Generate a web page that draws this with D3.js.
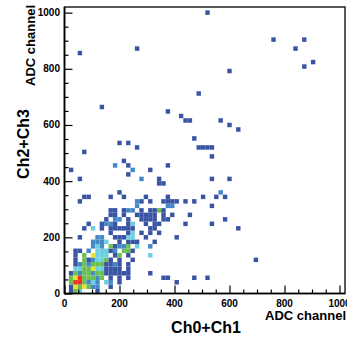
<!DOCTYPE html>
<html lang="en">
<head>
<meta charset="utf-8">
<title>Ch2+Ch3 vs Ch0+Ch1</title>
<style>
  * { margin: 0; padding: 0; box-sizing: border-box; }
  body { background: #fff; overflow: hidden; }
  svg { display: block; }
  text { font-family: "Liberation Sans", Arial, Helvetica, sans-serif; font-weight: bold; fill: #000; }
</style>
</head>
<body>
<svg id="chart" width="347" height="337"></svg>
<script src="https://cdn.jsdelivr.net/npm/d3@7/dist/d3.min.js"></script>
<script>
// 2D histogram, 16 ADC channels per bin; each entry is the low edge of a filled bin
const binWidth = 16;

const cellX = [
  16, 32, 48, 112,
  16, 32, 48, 64, 80, 96, 112, 160,
  16, 32, 48, 64, 80, 96, 112, 144, 160, 192, 400,
  16, 32, 48, 64, 80, 96, 112, 128, 160, 192, 224, 352, 368, 464, 512,
  16, 32, 48, 64, 80, 96, 112, 128, 144, 160, 176, 192, 208, 224, 304,
  32, 48, 64, 80, 96, 112, 128, 144, 160, 176, 192, 224,
  32, 48, 64, 80, 96, 112, 128, 144, 160, 176, 192, 224,
  32, 64, 80, 96, 112, 128, 144, 160, 192, 240, 688,
  32, 64, 96, 112, 128, 144, 176, 192, 224, 304,
  32, 48, 80, 112, 128, 144, 160, 176, 208, 224, 240,
  96, 112, 128, 160, 176, 192, 208, 224, 256, 304,
  96, 112, 128, 144, 192, 224, 240, 256, 320,
  48, 112, 128, 176, 192, 208, 224, 240, 288, 400,
  160, 224, 240, 272, 304, 336,
  64, 96, 128, 160, 176, 192, 208, 224, 240, 304, 320, 624,
  80, 128, 144, 160, 176, 224, 240, 288, 320, 336, 432, 528,
  144, 176, 192, 224, 272, 288, 304, 320, 352, 368, 576,
  160, 176, 208, 256, 272, 288, 304, 320, 352, 384, 448,
  160, 176, 208, 224, 240, 272, 304, 320, 336, 352,
  256, 368, 384, 528,
  48, 256, 272, 304, 352, 368, 384, 400, 432, 464,
  64, 80, 160, 208, 288, 368, 496, 544, 576,
  192, 560,
  336, 352,
  48, 272, 336, 528, 592,
  224,
  16, 240, 304,
  176, 224, 368,
  208,
  528,
  64,
  256, 480, 496, 512, 528,
  192, 224,
  464,
  624,
  592,
  432, 448, 560,
  416,
  368,
  128,
  480,
  592,
  864,
  896,
  48,
  256, 832,
  752, 864,
  512
];

const cellY = [
  0, 0, 0, 0,
  16, 16, 16, 16, 16, 16, 16, 16,
  32, 32, 32, 32, 32, 32, 32, 32, 32, 32, 32,
  48, 48, 48, 48, 48, 48, 48, 48, 48, 48, 48, 48, 48, 48, 48,
  64, 64, 64, 64, 64, 64, 64, 64, 64, 64, 64, 64, 64, 64, 64,
  80, 80, 80, 80, 80, 80, 80, 80, 80, 80, 80, 80,
  96, 96, 96, 96, 96, 96, 96, 96, 96, 96, 96, 96,
  112, 112, 112, 112, 112, 112, 112, 112, 112, 112, 112,
  128, 128, 128, 128, 128, 128, 128, 128, 128, 128,
  144, 144, 144, 144, 144, 144, 144, 144, 144, 144, 144,
  160, 160, 160, 160, 160, 160, 160, 160, 160, 160,
  176, 176, 176, 176, 176, 176, 176, 176, 176,
  192, 192, 192, 192, 192, 192, 192, 192, 192, 192,
  208, 208, 208, 208, 208, 208,
  224, 224, 224, 224, 224, 224, 224, 224, 224, 224, 224, 224,
  240, 240, 240, 240, 240, 240, 240, 240, 240, 240, 240, 240,
  256, 256, 256, 256, 256, 256, 256, 256, 256, 256, 256,
  272, 272, 272, 272, 272, 272, 272, 272, 272, 272, 272,
  288, 288, 288, 288, 288, 288, 288, 288, 288, 288,
  304, 304, 304, 304,
  320, 320, 320, 320, 320, 320, 320, 320, 320, 320,
  336, 336, 336, 336, 336, 336, 336, 336, 336,
  352, 352,
  384, 384,
  400, 400, 400, 400, 400,
  416,
  432, 432, 432,
  448, 448, 448,
  464,
  480,
  496,
  512, 512, 512, 512, 512,
  528, 528,
  544,
  576,
  592,
  608, 608, 608,
  624,
  640,
  656,
  704,
  784,
  800,
  816,
  848,
  864, 864,
  896, 896,
  992
];

const cellCount = [
  1, 4, 3, 1,
  1, 6, 4, 6, 4, 2, 2, 1,
  4, 8, 8, 4, 2, 3, 2, 3, 2, 1, 1,
  4, 6, 8, 4, 4, 4, 2, 4, 1, 1, 1, 1, 1, 1, 1,
  1, 4, 2, 4, 4, 2, 4, 4, 1, 1, 1, 1, 1, 1, 1,
  3, 3, 4, 4, 6, 3, 3, 1, 1, 1, 1, 1,
  1, 2, 4, 2, 4, 4, 4, 1, 1, 2, 1, 1,
  1, 4, 1, 2, 3, 3, 4, 1, 1, 1, 1,
  1, 4, 6, 3, 3, 3, 1, 4, 1, 3,
  1, 1, 2, 3, 3, 3, 1, 2, 4, 4, 1,
  2, 3, 2, 4, 1, 2, 2, 4, 3, 2,
  2, 2, 2, 3, 1, 1, 1, 1, 1,
  1, 2, 2, 1, 1, 1, 3, 3, 1, 1,
  1, 1, 3, 1, 1, 1,
  1, 3, 1, 1, 1, 1, 1, 1, 1, 1, 1, 1,
  1, 1, 2, 2, 1, 1, 3, 1, 1, 1, 1, 1,
  1, 2, 2, 1, 1, 1, 1, 1, 1, 1, 1,
  1, 1, 1, 1, 1, 1, 1, 1, 1, 1, 1,
  1, 1, 1, 2, 2, 1, 1, 1, 4, 1,
  2, 2, 2, 1,
  1, 2, 1, 1, 1, 1, 1, 1, 1, 1,
  1, 1, 1, 1, 1, 1, 1, 1, 1,
  1, 2,
  1, 1,
  1, 2, 1, 1, 1,
  1,
  1, 2, 1,
  2, 1, 1,
  1,
  1,
  1,
  1, 1, 1, 1, 1,
  1, 1,
  1,
  1,
  1,
  1, 1, 1,
  1,
  1,
  1,
  1,
  1,
  1,
  1,
  1,
  1, 1,
  1, 1,
  1
];

const xTicks = [0, 200, 400, 600, 800, 1000];
const yTicks = [0, 200, 400, 600, 800, 1000];

// palette: counts 1..8, blue -> red
const paletteCounts = [1, 2, 3, 4, 5, 6, 7, 8];
const paletteColors = ["#3a54a4", "#4488c8", "#6dcfe0", "#6cbf4f", "#a8d23a", "#e4e428", "#f5a623", "#ee3124"];

const svg = d3.select("#chart");
const frame = { left: 64.5, right: 345, top: 7, bottom: 293.5 };

const x = d3.scaleLinear().domain([0, 1020]).range([frame.left, frame.right]);
const y = d3.scaleLinear().domain([0, 1020]).range([frame.bottom, frame.top]);
const color = d3.scaleOrdinal().domain(paletteCounts).range(paletteColors);

const cells = cellX.map((v, i) => ({ x: v, y: cellY[i], n: cellCount[i] }));

// cells
svg.append("g").selectAll("rect")
  .data(cells).join("rect")
  .attr("x", d => x(d.x))
  .attr("y", d => y(d.y + binWidth))
  .attr("width", d => x(d.x + binWidth) - x(d.x))
  .attr("height", d => y(d.y) - y(d.y + binWidth))
  .attr("fill", d => color(Math.min(d.n, 8)));

// frame
svg.append("rect")
  .attr("x", frame.left).attr("y", frame.top)
  .attr("width", frame.right - frame.left).attr("height", frame.bottom - frame.top)
  .attr("fill", "none").attr("stroke", "#222").attr("stroke-width", 1.5);

// x axis, ticks inside
const xAxis = svg.append("g").attr("transform", `translate(0,${frame.bottom})`);
xAxis.call(d3.axisTop(x).tickValues(d3.range(0, 1001, 50)).tickSize(4).tickFormat(""));
xAxis.call(g => g.selectAll(".tick line").filter(d => d % 200 === 0).attr("y2", -8));
xAxis.select(".domain").remove();
xAxis.selectAll(".tick line").attr("stroke", "#000").attr("stroke-width", 1.2);

svg.append("g").selectAll("text")
  .data(xTicks).join("text")
  .attr("x", d => x(d)).attr("y", 307)
  .attr("text-anchor", "middle").attr("font-size", 10)
  .text(d => d);

// y axis, ticks inside
const yAxis = svg.append("g").attr("transform", `translate(${frame.left},0)`);
yAxis.call(d3.axisRight(y).tickValues(d3.range(0, 1001, 50)).tickSize(4).tickFormat(""));
yAxis.call(g => g.selectAll(".tick line").filter(d => d % 200 === 0).attr("x2", 8));
yAxis.select(".domain").remove();
yAxis.selectAll(".tick line").attr("stroke", "#000").attr("stroke-width", 1.2);

svg.append("g").selectAll("text")
  .data(yTicks).join("text")
  .attr("x", 60).attr("y", d => y(d)).attr("dy", "0.35em")
  .attr("text-anchor", "end").attr("font-size", 10)
  .text(d => d);

// axis lines
svg.append("line").attr("x1", frame.left).attr("x2", frame.right)
  .attr("y1", frame.bottom).attr("y2", frame.bottom).attr("stroke", "#000").attr("stroke-width", 1.6);
svg.append("line").attr("x1", frame.left).attr("x2", frame.left)
  .attr("y1", frame.top).attr("y2", frame.bottom).attr("stroke", "#000").attr("stroke-width", 1.6);

// titles
svg.append("text").attr("x", 346).attr("y", 320)
  .attr("text-anchor", "end").attr("font-size", 13).text("ADC channel");
svg.append("text").attr("x", 206).attr("y", 333)
  .attr("text-anchor", "middle").attr("font-size", 16).text("Ch0+Ch1");
svg.append("text").attr("transform", "translate(35,5) rotate(-90)")
  .attr("text-anchor", "end").attr("font-size", 13).text("ADC channel");
svg.append("text").attr("transform", "translate(28.5,144) rotate(-90)")
  .attr("text-anchor", "middle").attr("font-size", 16).text("Ch2+Ch3");
</script>
</body>
</html>
